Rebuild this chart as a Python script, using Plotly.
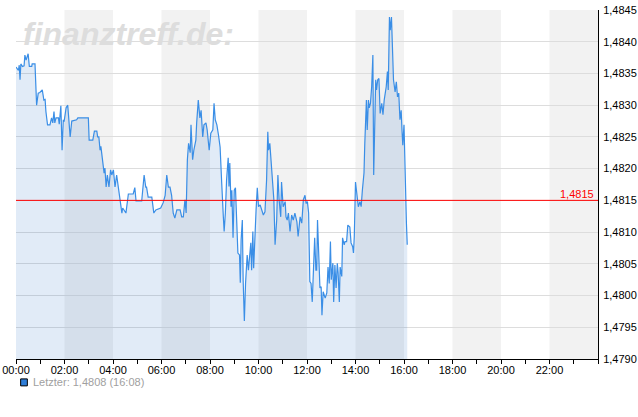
import plotly.graph_objects as go

# ---- data ----
minutes = [0,6,8,10,12,16,20,22,25,28,30,33,39,40,47,51,55,59,65,69,72,74,78,84,88,91,94,96,99,105,107,111,114,117,119,124,128,134,138,150,153,179,181,190,194,200,202,205,208,210,214,218,220,223,226,230,234,237,241,245,249,253,257,262,264,270,272,278,290,294,297,311,317,321,323,327,336,341,346,358,364,369,373,377,381,385,389,393,398,406,410,414,418,421,424,427,431,433,437,440,445,447,451,455,458,462,465,470,473,478,482,487,490,493,497,501,505,509,511,513,515,518,521,525,527,529,532,534,537,540,543,546,549,553,555,557,560,562,565,568,572,575,578,581,583,586,588,591,594,597,600,604,608,612,616,620,623,625,628,633,636,638,641,645,648,651,655,657,661,666,668,671,674,678,682,686,690,695,698,703,707,711,715,718,721,724,727,730,733,737,739,742,744,746,750,752,755,757,760,765,769,772,775,778,780,784,786,789,792,795,797,800,802,806,808,812,814,818,821,826,829,833,835,837,840,844,847,851,854,857,861,863,867,869,872,874,877,880,883,885,888,890,892,895,898,901,905,908,911,916,919,921,924,926,929,931,934,938,941,944,947,950,953,955,957,960,962,966,968]

prices = [1.48360,1.48355,1.48363,1.48340,1.48365,1.48361,1.48362,1.48379,1.48371,1.48379,1.48381,1.48361,1.48361,1.48365,1.48365,1.48300,1.48319,1.48320,1.48324,1.48308,1.48309,1.48290,1.48269,1.48269,1.48280,1.48272,1.48290,1.48272,1.48280,1.48280,1.48270,1.48299,1.48229,1.48277,1.48274,1.48296,1.48300,1.48250,1.48275,1.48277,1.48280,1.48280,1.48245,1.48245,1.48259,1.48259,1.48250,1.48250,1.48229,1.48235,1.48209,1.48193,1.48201,1.48171,1.48190,1.48171,1.48198,1.48190,1.48198,1.48171,1.48190,1.48171,1.48155,1.48130,1.48138,1.48130,1.48130,1.48160,1.48160,1.48170,1.48149,1.48149,1.48190,1.48171,1.48171,1.48155,1.48155,1.48130,1.48135,1.48138,1.48146,1.48158,1.48190,1.48171,1.48171,1.48158,1.48130,1.48122,1.48135,1.48135,1.48124,1.48124,1.48151,1.48130,1.48214,1.48240,1.48225,1.48269,1.48214,1.48229,1.48245,1.48272,1.48308,1.48280,1.48292,1.48250,1.48269,1.48272,1.48261,1.48229,1.48256,1.48261,1.48303,1.48277,1.48269,1.48253,1.48234,1.48177,1.48130,1.48124,1.48101,1.48130,1.48182,1.48217,1.48172,1.48209,1.48140,1.48166,1.48091,1.48166,1.48170,1.48119,1.48067,1.48064,1.48020,1.48088,1.48119,1.48025,1.47960,1.48020,1.48064,1.48040,1.48067,1.48083,1.48040,1.48101,1.48043,1.48101,1.48135,1.48170,1.48140,1.48143,1.48135,1.48127,1.48132,1.48182,1.48258,1.48229,1.48240,1.48193,1.48162,1.48151,1.48080,1.48119,1.48190,1.48151,1.48124,1.48179,1.48140,1.48148,1.48124,1.48119,1.48130,1.48101,1.48127,1.48119,1.48130,1.48116,1.48093,1.48124,1.48114,1.48151,1.48158,1.48145,1.48148,1.48130,1.48022,1.48019,1.47990,1.48045,1.48091,1.48040,1.48040,1.48119,1.48036,1.48012,1.48014,1.47969,1.48006,1.47996,1.48004,1.48045,1.48019,1.48085,1.48025,1.48051,1.47990,1.48048,1.48012,1.48051,1.48036,1.47990,1.48045,1.48030,1.48091,1.48080,1.48085,1.48085,1.48111,1.48108,1.48083,1.48077,1.48067,1.48093,1.48179,1.48151,1.48140,1.48148,1.48140,1.48166,1.48193,1.48240,1.48308,1.48261,1.48308,1.48296,1.48303,1.48329,1.48379,1.48190,1.48292,1.48340,1.48324,1.48340,1.48342,1.48287,1.48303,1.48285,1.48308,1.48329,1.48353,1.48324,1.48439,1.48418,1.48439,1.48408,1.48340,1.48321,1.48337,1.48313,1.48319,1.48277,1.48292,1.48261,1.48237,1.48269,1.48203,1.48114,1.48080]

reference_level = 1.4815
tick_hours = [0, 2, 4, 6, 8, 10, 12, 14, 16, 18, 20, 22]
tick_labels = ["00:00", "02:00", "04:00", "06:00", "08:00", "10:00",
               "12:00", "14:00", "16:00", "18:00", "20:00", "22:00"]
band_starts = [2, 6, 10, 14, 18, 22]
y_ticks = [1.4790, 1.4795, 1.4800, 1.4805, 1.4810, 1.4815,
           1.4820, 1.4825, 1.4830, 1.4835, 1.4840, 1.4845]
y_tick_labels = ["1,4790", "1,4795", "1,4800", "1,4805", "1,4810", "1,4815",
                 "1,4820", "1,4825", "1,4830", "1,4835", "1,4840", "1,4845"]

# ---- figure ----
hours = [m / 60 for m in minutes]
FONT = "Liberation Sans, Arial, sans-serif"

fig = go.Figure()
fig.add_trace(go.Scatter(
    x=hours, y=prices, mode="lines",
    line=dict(color="#3a8ee6", width=1.2),
    fill="tozeroy", fillcolor="rgba(40,110,200,0.14)",
    hoverinfo="skip",
))

shapes = []
for b in band_starts:
    shapes.append(dict(type="rect", xref="x", yref="paper", x0=b, x1=b + 2,
                       y0=0, y1=1, fillcolor="#f2f2f2", line=dict(width=0),
                       layer="below"))
shapes.append(dict(type="line", xref="paper", yref="y", x0=0, x1=1,
                   y0=reference_level, y1=reference_level,
                   line=dict(color="#ff0000", width=1), layer="above"))
# legend square
shapes.append(dict(type="rect", xref="paper", yref="paper",
                   x0=0.0080, x1=0.0195, y0=-0.0770, y1=-0.0570,
                   fillcolor="#2f7ed8", line=dict(color="#000000", width=1)))

last_min = minutes[-1]
last_time = f"{last_min // 60:02d}:{last_min % 60:02d}"
legend_text = f"Letzter: {prices[-1]:.4f}".replace(".", ",") + f" ({last_time})"

annotations = [
    dict(text="<b><i>finanztreff.de:</i></b>", xref="paper", yref="paper",
         x=0.009, y=0.932, xanchor="left", yanchor="middle", showarrow=False,
         font=dict(family=FONT, size=32, color="#dddddd")),
    dict(text=f"{reference_level:.4f}".replace(".", ","), xref="paper", yref="y",
         x=1, y=reference_level, xanchor="right", yanchor="bottom",
         xshift=-2, yshift=-2, showarrow=False,
         font=dict(family=FONT, size=11, color="#ff0000")),
    dict(text=legend_text, xref="paper", yref="paper",
         x=0.0265, y=-0.0670, xanchor="left", yanchor="middle", showarrow=False,
         font=dict(family=FONT, size=11, color="#a0a0a0")),
]

fig.update_layout(
    width=638, height=417,
    margin=dict(l=16, r=40, t=10, b=58, autoexpand=False),
    paper_bgcolor="white", plot_bgcolor="white",
    showlegend=False,
    font=dict(family=FONT, size=11, color="#000000"),
    shapes=shapes, annotations=annotations,
    xaxis=dict(range=[0, 24], tickvals=tick_hours, ticktext=tick_labels,
               showgrid=False, zeroline=False, showline=True,
               linecolor="#000000", linewidth=1,
               ticks="outside", ticklen=4, tickcolor="#000000",
               minor=dict(dtick=1, tick0=0, ticks="outside", ticklen=4,
                          tickcolor="#000000", showgrid=False),
               ticklabelstandoff=-3,
               tickfont=dict(family=FONT, size=11, color="#000000"),
               automargin=False, fixedrange=True),
    yaxis=dict(range=[y_ticks[0], y_ticks[-1]], side="right",
               tickvals=y_ticks, ticktext=y_tick_labels,
               showgrid=True, gridcolor="#dddddd",
               gridwidth=1, zeroline=False, showline=True,
               linecolor="#000000", linewidth=1, ticks="",
               ticklabelstandoff=2,
               tickfont=dict(family=FONT, size=11, color="#000000"),
               automargin=False, fixedrange=True),
)

fig.write_html(
    "out.html",
    config={"displayModeBar": False},
    post_script="document.body.style.margin='0';document.body.style.overflow='hidden';",
)
